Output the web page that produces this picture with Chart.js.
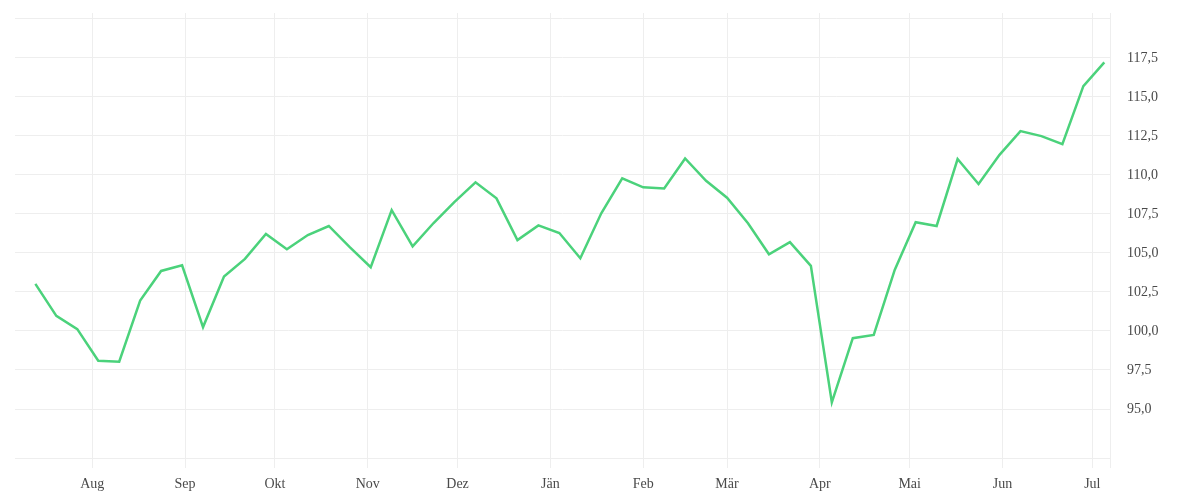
<!DOCTYPE html>
<html>
<head>
<meta charset="utf-8">
<script src="https://cdn.jsdelivr.net/npm/chart.js@4"></script>
<style>
  html, body { margin: 0; padding: 0; background: #fff; }
  #wrap { width: 1200px; height: 500px; position: relative; }
</style>
</head>
<body>
<div id="wrap"><canvas id="grafico"></canvas></div>
<script>
// Wöchentliche Werte (Datum + Kurs)
const fechas = [
  '2022-07-13', '2022-07-20', '2022-07-27',
  '2022-08-03', '2022-08-10', '2022-08-17', '2022-08-24', '2022-08-31',
  '2022-09-07', '2022-09-14', '2022-09-21', '2022-09-28',
  '2022-10-05', '2022-10-12', '2022-10-19', '2022-10-26',
  '2022-11-02', '2022-11-09', '2022-11-16', '2022-11-23', '2022-11-30',
  '2022-12-07', '2022-12-14', '2022-12-21', '2022-12-28',
  '2023-01-04', '2023-01-11', '2023-01-18', '2023-01-25',
  '2023-02-01', '2023-02-08', '2023-02-15', '2023-02-22',
  '2023-03-01', '2023-03-08', '2023-03-15', '2023-03-22', '2023-03-29',
  '2023-04-05', '2023-04-12', '2023-04-19', '2023-04-26',
  '2023-05-03', '2023-05-10', '2023-05-17', '2023-05-24', '2023-05-31',
  '2023-06-07', '2023-06-14', '2023-06-21', '2023-06-28',
  '2023-07-05'
];

const valores = [
  103.02, 100.97, 100.12, 98.09, 98.03, 101.95, 103.85, 104.21,
  100.25, 103.49, 104.62, 106.22, 105.24, 106.15, 106.73, 105.37,
  104.09, 107.75, 105.43, 106.92, 108.27, 109.53, 108.50, 105.83,
  106.77, 106.28, 104.66, 107.54, 109.78, 109.21, 109.14, 111.06,
  109.63, 108.54, 106.90, 104.92, 105.69, 104.17, 95.42, 99.54,
  99.75, 103.91, 106.97, 106.73, 111.02, 109.42, 111.29, 112.81,
  112.49, 111.98, 115.69, 117.22
];

// Monatsmarken der x-Achse
const inicioMes = [
  '2022-08-01', '2022-09-01', '2022-10-01', '2022-11-01', '2022-12-01', '2023-01-01',
  '2023-02-01', '2023-03-01', '2023-04-01', '2023-05-01', '2023-06-01', '2023-07-01'
];
const etiquetasMes = ['Aug', 'Sep', 'Okt', 'Nov', 'Dez', 'Jän', 'Feb', 'Mär', 'Apr', 'Mai', 'Jun', 'Jul'];

// y-Achse
const ticksY = [95, 97.5, 100, 102.5, 105, 107.5, 110, 112.5, 115, 117.5, 120];

// Tage relativ zum 1. August 2022
const base = Date.UTC(2022, 7, 1);
function dias(s) {
  const p = s.split('-');
  return (Date.UTC(+p[0], +p[1] - 1, +p[2]) - base) / 86400000;
}

const puntos = fechas.map((f, i) => ({ x: dias(f), y: valores[i] }));
const diasMes = inicioMes.map(dias);

const xMin = -25.8;
const xMax = 339.9;

const colorGrid = '#eeeeee';
const colorTexto = '#4a4a4a';

const ctx = document.getElementById('grafico').getContext('2d');
window.myChart = new Chart(ctx, {
  type: 'line',
  data: {
    datasets: [{
      data: puntos,
      borderColor: '#4bd27b',
      borderWidth: 2.5,
      pointRadius: 0,
      pointHoverRadius: 0,
      tension: 0,
      fill: false
    }]
  },
  options: {
    responsive: true,
    maintainAspectRatio: false,
    animation: false,
    layout: { padding: { left: 15, top: 13, right: 0, bottom: 0 } },
    plugins: {
      legend: { display: false },
      tooltip: { enabled: false }
    },
    scales: {
      x: {
        type: 'linear',
        min: xMin,
        max: xMax,
        afterBuildTicks: (scale) => {
          scale.ticks = diasMes.map(v => ({ value: v })).concat([{ value: xMax }]);
        },
        afterFit: (scale) => {
          scale.height = 42;
          scale.paddingLeft = 0;
          scale.paddingRight = 0;
        },
        grid: { color: colorGrid, drawTicks: true, tickLength: 10, lineWidth: 1 },
        border: { display: true, color: colorGrid },
        ticks: {
          autoSkip: false,
          maxRotation: 0,
          padding: 8,
          color: colorTexto,
          font: { family: 'Liberation Serif', size: 14 },
          callback: (v, i) => etiquetasMes[i] || ''
        }
      },
      y: {
        position: 'right',
        min: 91.86,
        max: 120.38,
        afterBuildTicks: (scale) => {
          scale.ticks = ticksY.map(v => ({ value: v }));
        },
        afterFit: (scale) => {
          scale.width = 90;
          scale.paddingTop = 0;
          scale.paddingBottom = 0;
        },
        grid: { color: colorGrid, drawTicks: false },
        border: { display: false },
        ticks: {
          padding: 17,
          color: colorTexto,
          font: { family: 'Liberation Serif', size: 14 },
          callback: (v) => v >= 120 ? '' : v.toFixed(1).replace('.', ',')
        }
      }
    }
  }
});
</script>
</body>
</html>
